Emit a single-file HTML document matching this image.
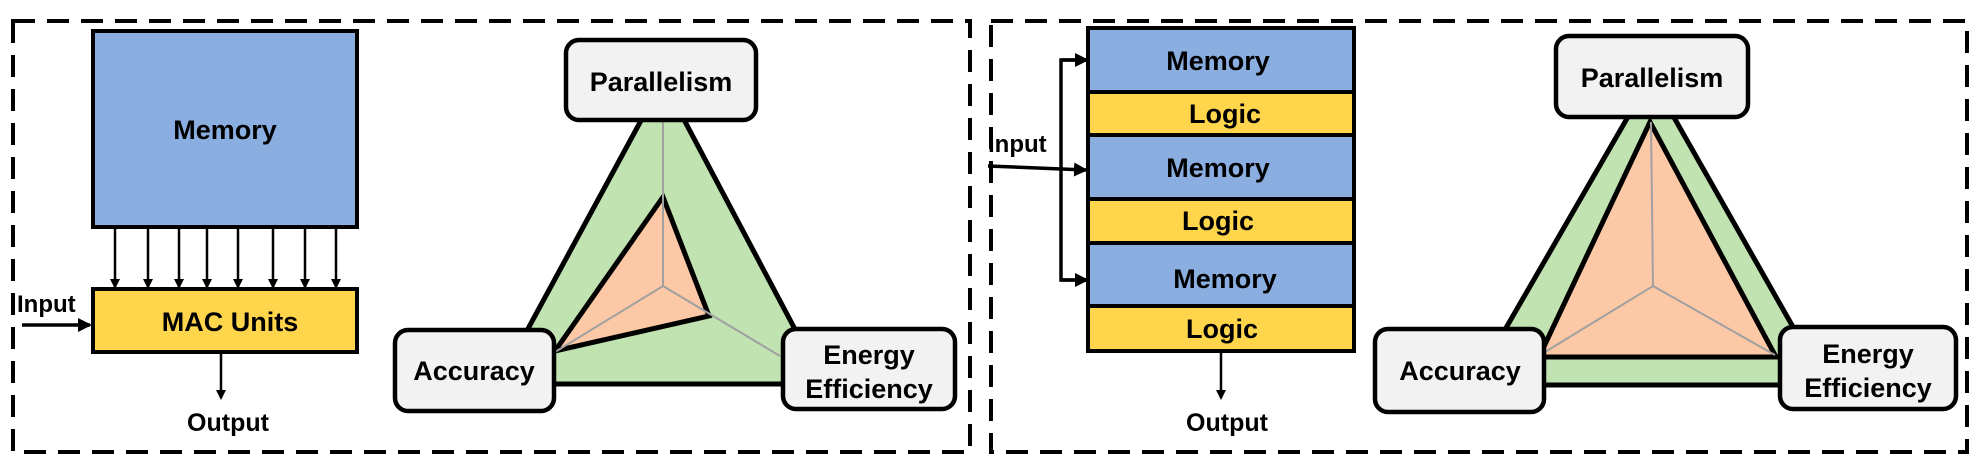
<!DOCTYPE html>
<html><head><meta charset="utf-8"><style>
html,body{margin:0;padding:0;background:#fff;}
svg{display:block;}
text{font-family:"Liberation Sans",Arial,sans-serif;font-weight:bold;fill:#000;}
</style></head><body>
<svg width="1980" height="469" viewBox="0 0 1980 469" xmlns="http://www.w3.org/2000/svg">
<defs>
<marker id="ah" markerWidth="10" markerHeight="10" refX="8" refY="5" orient="auto" markerUnits="userSpaceOnUse">
<path d="M0,0 L10,5 L0,10 z" fill="#000"/></marker>
<marker id="ah2" markerWidth="14" markerHeight="14" refX="12" refY="7" orient="auto" markerUnits="userSpaceOnUse">
<path d="M0,0 L14,7 L0,14 z" fill="#000"/></marker>
</defs>
<!-- dashed panels -->
<rect x="13" y="21" width="957" height="431" fill="none" stroke="#000" stroke-width="4" stroke-dasharray="22,12"/>
<rect x="991" y="21" width="976" height="431" fill="none" stroke="#000" stroke-width="4" stroke-dasharray="22,12"/>

<!-- LEFT PANEL -->
<rect x="93" y="31" width="264" height="196" fill="#8aaee0" stroke="#000" stroke-width="4"/>
<text x="225" y="139" font-size="27" text-anchor="middle">Memory</text>
<g stroke="#000" stroke-width="2.5" marker-end="url(#ah)">
<line x1="115" y1="227" x2="115" y2="287"/><line x1="148" y1="227" x2="148" y2="287"/>
<line x1="179" y1="227" x2="179" y2="287"/><line x1="207" y1="227" x2="207" y2="287"/>
<line x1="238" y1="227" x2="238" y2="287"/><line x1="273" y1="227" x2="273" y2="287"/>
<line x1="305" y1="227" x2="305" y2="287"/><line x1="336" y1="227" x2="336" y2="287"/>
</g>
<rect x="93" y="289" width="264" height="63" fill="#ffd54c" stroke="#000" stroke-width="4"/>
<text x="230" y="331" font-size="27" text-anchor="middle">MAC Units</text>
<text x="17" y="312" font-size="24">Input</text>
<line x1="22" y1="325" x2="90" y2="325" stroke="#000" stroke-width="3.5" marker-end="url(#ah2)"/>
<line x1="221" y1="352" x2="221" y2="398" stroke="#000" stroke-width="2.5" marker-end="url(#ah)"/>
<text x="228" y="431" font-size="25" text-anchor="middle">Output</text>

<!-- left radar -->
<polygon points="663,80 498,384 824,384" fill="#c1e2b1" stroke="#000" stroke-width="5" stroke-linejoin="miter"/>
<polygon points="663,197 709,316 555,351" fill="#fcc8a6" stroke="#000" stroke-width="5"/>
<g stroke="#a0a0a0" stroke-width="2">
<line x1="663" y1="286" x2="663" y2="120"/><line x1="663" y1="286" x2="555" y2="352"/><line x1="663" y1="286" x2="780" y2="356"/>
</g>
<rect x="566" y="40" width="190" height="80" rx="13" fill="#f2f2f2" stroke="#000" stroke-width="4.5"/>
<text x="661" y="91" font-size="27" text-anchor="middle">Parallelism</text>
<rect x="395" y="330" width="159" height="81" rx="13" fill="#f2f2f2" stroke="#000" stroke-width="4.5"/>
<text x="474" y="380" font-size="27" text-anchor="middle">Accuracy</text>
<rect x="783" y="329" width="172" height="80" rx="13" fill="#f2f2f2" stroke="#000" stroke-width="4.5"/>
<text x="869" y="364" font-size="27" text-anchor="middle">Energy</text>
<text x="869" y="398" font-size="27" text-anchor="middle">Efficiency</text>

<!-- RIGHT PANEL -->
<g stroke="#000" stroke-width="4">
<rect x="1088" y="28" width="266" height="64" fill="#8aaee0"/>
<rect x="1088" y="92" width="266" height="43" fill="#ffd54c"/>
<rect x="1088" y="135" width="266" height="64" fill="#8aaee0"/>
<rect x="1088" y="199" width="266" height="44" fill="#ffd54c"/>
<rect x="1088" y="243" width="266" height="63" fill="#8aaee0"/>
<rect x="1088" y="306" width="266" height="45" fill="#ffd54c"/>
</g>
<text x="1218" y="70" font-size="27" text-anchor="middle">Memory</text>
<text x="1225" y="123" font-size="27" text-anchor="middle">Logic</text>
<text x="1218" y="177" font-size="27" text-anchor="middle">Memory</text>
<text x="1218" y="230" font-size="27" text-anchor="middle">Logic</text>
<text x="1225" y="288" font-size="27" text-anchor="middle">Memory</text>
<text x="1222" y="338" font-size="27" text-anchor="middle">Logic</text>
<text x="988" y="152" font-size="24">Input</text>
<line x1="988" y1="166" x2="1086" y2="170" stroke="#000" stroke-width="3.5" marker-end="url(#ah2)"/>
<polyline points="1086,60 1061,60 1061,280 1086,280" fill="none" stroke="#000" stroke-width="3.5"/>
<line x1="1061" y1="60" x2="1087" y2="60" stroke="#000" stroke-width="3.5" marker-end="url(#ah2)"/>
<line x1="1061" y1="280" x2="1087" y2="280" stroke="#000" stroke-width="3.5" marker-end="url(#ah2)"/>
<line x1="1221" y1="351" x2="1221" y2="398" stroke="#000" stroke-width="2.5" marker-end="url(#ah)"/>
<text x="1227" y="431" font-size="25" text-anchor="middle">Output</text>

<!-- right radar -->
<polygon points="1651,77 1473,385 1826,385" fill="#c1e2b1" stroke="#000" stroke-width="5"/>
<polygon points="1650,122 1539,357 1776,357" fill="#fcc8a6" stroke="#000" stroke-width="5"/>
<g stroke="#a0a0a0" stroke-width="2">
<line x1="1653" y1="286" x2="1651" y2="122"/><line x1="1653" y1="286" x2="1545" y2="352"/><line x1="1653" y1="286" x2="1775" y2="355"/>
</g>
<rect x="1556" y="36" width="192" height="81" rx="13" fill="#f2f2f2" stroke="#000" stroke-width="4.5"/>
<text x="1652" y="87" font-size="27" text-anchor="middle">Parallelism</text>
<rect x="1375" y="329" width="169" height="83" rx="13" fill="#f2f2f2" stroke="#000" stroke-width="4.5"/>
<text x="1460" y="380" font-size="27" text-anchor="middle">Accuracy</text>
<rect x="1780" y="327" width="176" height="82" rx="13" fill="#f2f2f2" stroke="#000" stroke-width="4.5"/>
<text x="1868" y="363" font-size="27" text-anchor="middle">Energy</text>
<text x="1868" y="397" font-size="27" text-anchor="middle">Efficiency</text>
</svg>
</body></html>
